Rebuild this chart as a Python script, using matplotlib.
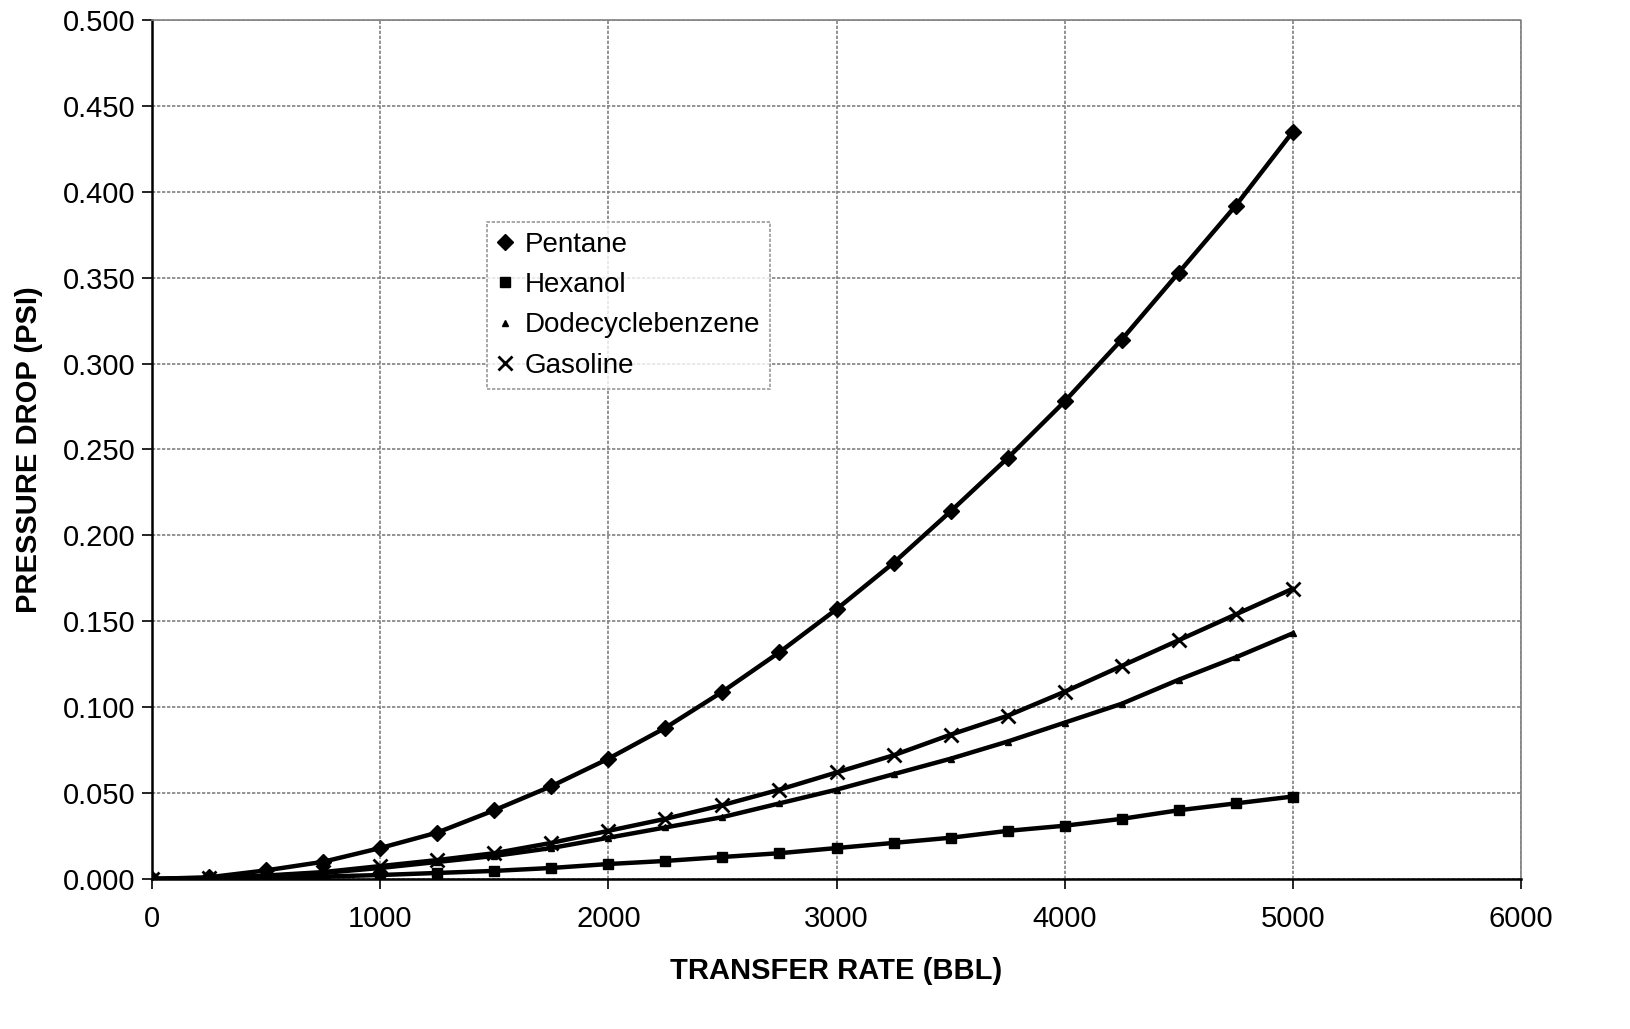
import matplotlib
matplotlib.use('Agg')
import matplotlib.pyplot as plt
from matplotlib.ticker import FormatStrFormatter

plt.rcParams['font.family'] = ['Liberation Sans', 'DejaVu Sans']

# transfer rate (BBL)
rate = [0, 250, 500, 750, 1000, 1250, 1500, 1750, 2000, 2250, 2500,
        2750, 3000, 3250, 3500, 3750, 4000, 4250, 4500, 4750, 5000]

# pressure drop (PSI)
pentane = [0.000, 0.001, 0.005, 0.010, 0.018, 0.027, 0.040, 0.054, 0.070, 0.088, 0.109,
           0.132, 0.157, 0.184, 0.214, 0.245, 0.278, 0.314, 0.353, 0.392, 0.435]
hexanol = [0.000, 0.0002, 0.0007, 0.0014, 0.0023, 0.0035, 0.0047, 0.0064, 0.0087, 0.0105, 0.0128,
           0.015, 0.018, 0.021, 0.024, 0.028, 0.031, 0.035, 0.040, 0.044, 0.048]
dodecyl = [0.000, 0.0005, 0.0017, 0.0035, 0.0064, 0.0099, 0.0134, 0.018, 0.024, 0.030, 0.036,
           0.044, 0.052, 0.061, 0.070, 0.080, 0.091, 0.102, 0.116, 0.129, 0.143]
gasoline = [0.000, 0.0005, 0.002, 0.004, 0.0075, 0.011, 0.015, 0.021, 0.028, 0.035, 0.043,
            0.052, 0.062, 0.072, 0.084, 0.095, 0.109, 0.124, 0.139, 0.154, 0.169]

series = [
    ('Pentane', pentane, 'D', 8),
    ('Hexanol', hexanol, 's', 7),
    ('Dodecyclebenzene', dodecyl, '^', 5),
    ('Gasoline', gasoline, 'x', 10),
]

fig = plt.figure(figsize=(16.31, 10.29), dpi=100)
ax = fig.add_axes([0.0932, 0.1458, 0.8394, 0.8348])

for name, vals, mk, ms in series:
    ax.plot(rate, vals, color='black', lw=3.2, solid_capstyle='round')
    ax.plot(rate, vals, ls='none', marker=mk, markersize=ms, color='black',
            markeredgewidth=2 if mk == 'x' else 1, label=name)

ax.set_xlim(0, 6000)
ax.set_ylim(0, 0.5)
ax.set_xticks(range(0, 6001, 1000))
ax.set_yticks([i * 0.05 for i in range(11)])
ax.yaxis.set_major_formatter(FormatStrFormatter('%.3f'))
ax.tick_params(direction='out', length=7, width=1.2, labelsize=21)
ax.tick_params(axis='y', pad=5)
ax.tick_params(axis='x', pad=12)

ax.grid(True, color='#808080', linestyle=(0, (2, 1)), linewidth=1.2)
ax.set_axisbelow(True)
for s in ['top', 'right']:
    ax.spines[s].set_color('#808080')
    ax.spines[s].set_linestyle((0, (2, 1)))
    ax.spines[s].set_linewidth(1.2)
for s in ['left', 'bottom']:
    ax.spines[s].set_color('black')
    ax.spines[s].set_linewidth(1.8)

ax.set_xlabel('TRANSFER RATE (BBL)', fontsize=21, fontweight='bold', labelpad=17)
ax.set_ylabel('PRESSURE DROP (PSI)', fontsize=21, fontweight='bold', labelpad=14)

leg = ax.legend(loc='upper left', bbox_to_anchor=(0.245, 0.765), borderaxespad=0,
                fontsize=20, frameon=True, fancybox=False, handlelength=0.6,
                handletextpad=0.4, labelspacing=0.52, borderpad=0.35, markerscale=1.0)
leg.get_frame().set_edgecolor('#808080')
leg.get_frame().set_linestyle((0, (2, 1)))
leg.get_frame().set_linewidth(1.2)

fig.savefig('out.png', dpi=100)
